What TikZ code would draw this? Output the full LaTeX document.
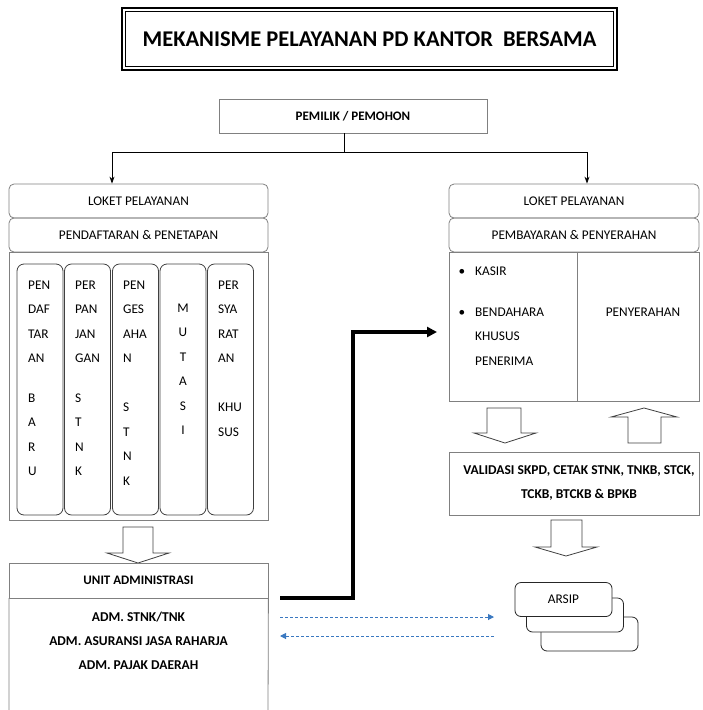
\documentclass[tikz,border=0pt]{standalone}
\usepackage{fontspec}
\setmainfont{Carlito}
\usetikzlibrary{arrows.meta}
\definecolor{bord}{HTML}{808080}
\definecolor{dblue}{HTML}{3A78C0}
\tikzset{
  box/.style={draw=bord, line width=0.8pt, inner sep=0pt, font=\fontsize{13.3}{15}\selectfont},
  rbox/.style={box, rounded corners=5pt},
  colbox/.style={draw=black!75, line width=0.8pt, rounded corners=7pt, minimum width=46pt, minimum height=251pt, inner sep=0pt},
  coltext/.style={anchor=north west, align=left, inner sep=0pt, font=\fontsize{13.3}{24.5}\selectfont},
  txt/.style={inner sep=0pt, font=\fontsize{13.3}{24.5}\selectfont},
  btxt/.style={inner sep=0pt, font=\bfseries\fontsize{13.5}{24}\selectfont},
  hollow/.style={draw=black!75, line width=0.8pt, fill=white, line join=miter},
  arsipbox/.style={draw=black!85, line width=0.8pt, rounded corners=6pt, fill=white, minimum width=97pt, minimum height=34pt, inner sep=0pt},
  bluearrow/.style={draw=dblue, line width=1pt, dash pattern=on 3pt off 2pt, -{Triangle[length=6pt,width=6pt]}},
}
\begin{document}
\begin{tikzpicture}[x=1pt,y=-1pt]
\useasboundingbox (0,0) rectangle (702,710);
% title
\node[draw=black, line width=2.6pt, minimum width=495pt, minimum height=62pt, inner sep=0pt,
      font=\bfseries\fontsize{22.5}{26}\selectfont] (title) at (369.5,39) {MEKANISME PELAYANAN PD KANTOR\ \ BERSAMA};
\draw[line width=0.8pt] ([shift={(4.5,4.5)}]title.north west) rectangle ([shift={(-4.5,-4.5)}]title.south east);
% pemilik
\node[box, minimum width=268pt, minimum height=34pt, font=\bfseries\fontsize{13}{15}\selectfont] (pem) at (353,116) {PEMILIK / PEMOHON};
\coordinate (split) at (344,152);
% left column
\node[rbox, minimum width=259pt, minimum height=34pt] (lok1) at (138.5,201) {LOKET PELAYANAN};
\node[rbox, minimum width=259pt, minimum height=34pt] (pend) at (138.5,235) {PENDAFTARAN \& PENETAPAN};
\node[box, minimum width=259pt, minimum height=268pt] (regL) at (138.5,386) {};
% right column
\node[rbox, minimum width=250pt, minimum height=34pt] (lok2) at (574,201) {LOKET PELAYANAN};
\node[rbox, minimum width=250pt, minimum height=34pt] (pemb) at (574,235) {PEMBAYARAN \& PENYERAHAN};
\node[box, minimum width=250pt, minimum height=149pt] (regR) at (574,326.5) {};
\draw[bord, line width=0.8pt] (577,252) -- (577,401);
% split arrows
\draw[line width=0.8pt] (pem.south -| split) -- (split);
\draw[line width=0.8pt, -{Stealth[length=7pt,width=5pt]}] (split) -| (lok1.north -| 112,0);
\draw[line width=0.8pt, -{Stealth[length=7pt,width=5pt]}] (split) -| (lok2.north -| 587,0);
% columns
\node[colbox] (c1) at (40,389.5) {};
\node[colbox] (c2) at (87.5,389.5) {};
\node[colbox] (c3) at (135.5,389.5) {};
\node[colbox] (c4) at (183,389.5) {};
\node[colbox] (c5) at (230.5,389.5) {};
\node[coltext] (t1) at (28,280.5) {PEN\\DAF\\TAR\\AN\\[15pt]B\\A\\R\\U};
\node[coltext] (t2) at (75,280.5) {PER\\PAN\\JAN\\GAN\\[15pt]S\\T\\N\\K};
\node[coltext] (t3) at (123,280.5) {PEN\\GES\\AHA\\N\\[24.5pt]S\\T\\N\\K};
\node[coltext, anchor=north, align=center] (t4) at (183,303.5) {M\\U\\T\\A\\S\\I};
\node[coltext] (t5) at (218,280.5) {PER\\SYA\\RAT\\AN\\[24.5pt]KHU\\SUS};
% hollow arrow left
\draw[hollow] (123,527) -- (153,527) -- (153,553) -- (169,553) -- (138,563) -- (107,553) -- (123,553) -- cycle;
% unit administrasi
\node[box, minimum width=259pt, minimum height=35pt, font=\bfseries\fontsize{13}{15}\selectfont] (unit) at (138.5,580.5) {UNIT ADMINISTRASI};
\draw[bord, line width=0.8pt] (9,712) |- (unit.south east) -- (268,712);
\node[btxt, align=center] (adm) at (138.5,640.5) {ADM. STNK/TNK\\ADM. ASURANSI JASA RAHARJA\\ADM. PAJAK DAERAH};
% right contents
\node[txt] (b1) at (462,272) {•};
\node[txt] (b2) at (462,313) {•};
\node[txt, anchor=north west, align=left] (kasir) at (475,267) {KASIR\\[16pt]BENDAHARA\\KHUSUS\\PENERIMA};
\node[txt] (peny) at (643,312) {PENYERAHAN};
% hollow arrows right
\draw[hollow] (487,408) -- (521,408) -- (521,433) -- (536,433) -- (505,443) -- (474,433) -- (487,433) -- cycle;
\draw[hollow] (628,443) -- (661,443) -- (661,417) -- (677,417) -- (644,408) -- (611,417) -- (628,417) -- cycle;
% validasi
\node[box, minimum width=250pt, minimum height=63pt] (val) at (574,483.5) {};
\node[btxt, align=center] (valt) at (579,483) {VALIDASI SKPD, CETAK STNK, TNKB, STCK,\\TCKB, BTCKB \& BPKB};
\draw[hollow] (551,520) -- (582,520) -- (582,547) -- (597,547) -- (566,556) -- (535,547) -- (551,547) -- cycle;
% arsip
\node[arsipbox] (ar3) at (589.5,634) {};
\node[arsipbox] (ar2) at (575,615) {};
\node[arsipbox, font=\fontsize{13.3}{15}\selectfont] (ar1) at (563.5,599.5) {ARSIP};
% thick connector
\coordinate (cs) at (280,598);
\coordinate (ce) at (437,332);
\draw[line width=4pt, line join=miter, -{Triangle[length=10pt,width=10pt]}] (cs) -- (353,598) -- (353,332) -- (ce);
% blue dashed
\coordinate (d1s) at (280,617);
\coordinate (d1e) at (494,617);
\coordinate (d2s) at (494,636);
\coordinate (d2e) at (280,636);
\draw[bluearrow] (d1s) -- (d1e);
\draw[bluearrow] (d2s) -- (d2e);
\end{tikzpicture}
\end{document}
